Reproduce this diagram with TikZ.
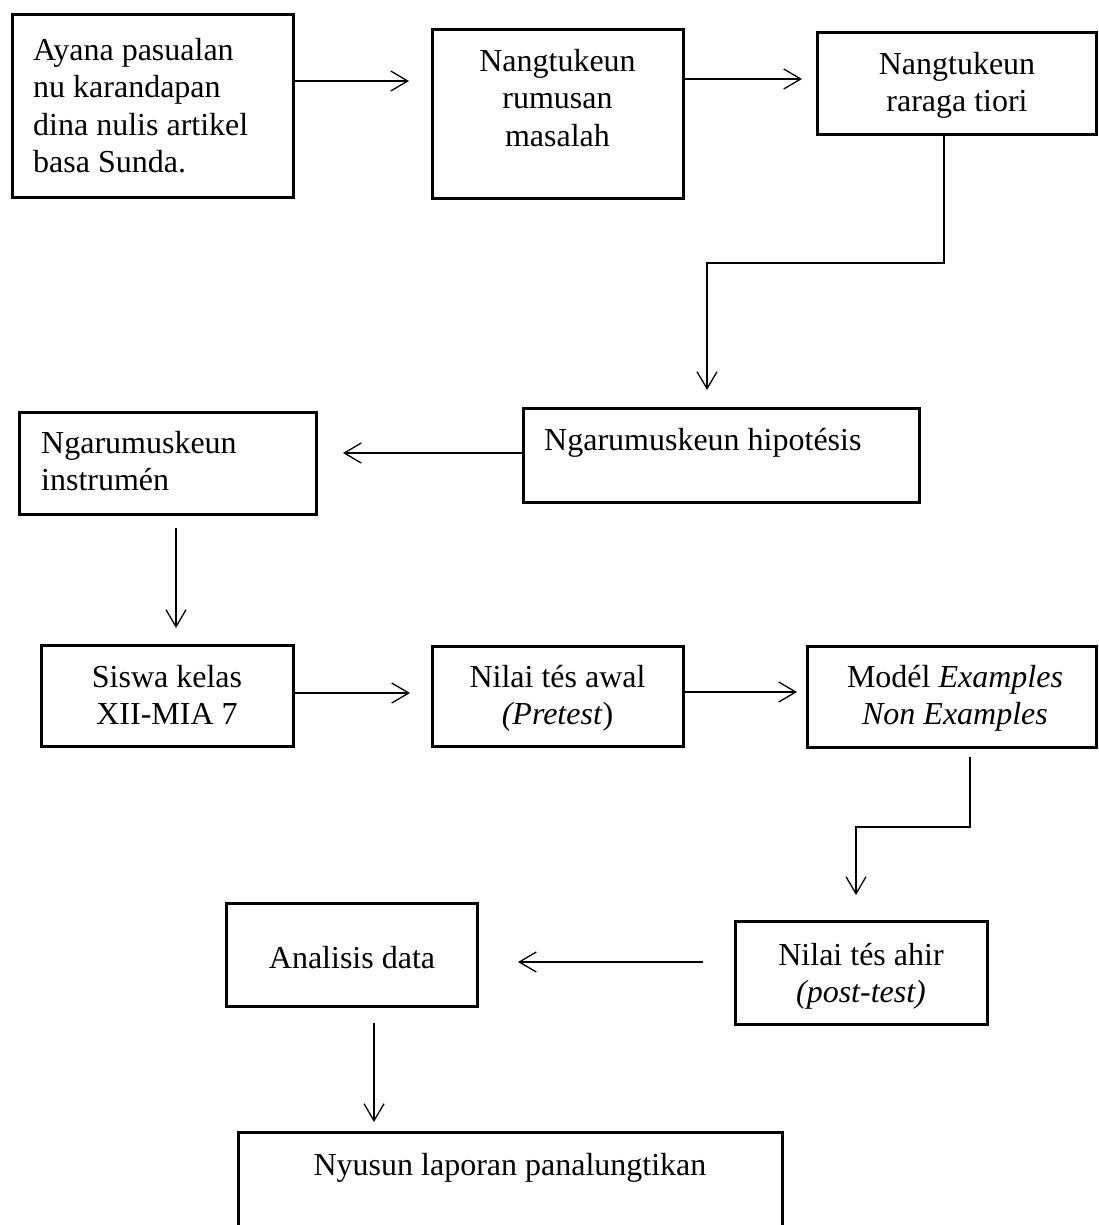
\documentclass[tikz,border=0pt]{standalone}
\usepackage{fontspec}
\setmainfont{Liberation Serif}
\usetikzlibrary{arrows.meta}

\begin{document}
\begin{tikzpicture}[x=1pt,y=-1pt,
	box/.style={draw,line width=3pt,inner sep=0pt},
	txt/.style={inner sep=0pt,font=\fontsize{32}{37.3}\selectfont},
	arr/.style={line width=1.3pt,-{Straight Barb[length=17pt,width=20pt,line width=1.3pt]}}]
	
	% page
	\useasboundingbox (0,0) rectangle (1098,1225);
	
	% boxes
	\node[box,minimum width=281pt,minimum height=182pt] (ayana) at (152.5,106) {};
	\node[box,minimum width=251pt,minimum height=168pt] (rumusan) at (557.5,114) {};
	\node[box,minimum width=279pt,minimum height=102pt] (raraga) at (956.5,84) {};
	\node[box,minimum width=396pt,minimum height=94pt] (hipotesis) at (721,455) {};
	\node[box,minimum width=297pt,minimum height=102pt] (instrumen) at (167.5,463) {};
	\node[box,minimum width=252pt,minimum height=101pt] (siswa) at (167,695.5) {};
	\node[box,minimum width=251pt,minimum height=100pt] (pretest) at (557.5,696) {};
	\node[box,minimum width=289pt,minimum height=101pt] (model) at (951.5,696.5) {};
	\node[box,minimum width=252pt,minimum height=103pt] (posttest) at (861,972.5) {};
	\node[box,minimum width=251pt,minimum height=103pt] (analisis) at (351.5,954.5) {};
	\node[box,minimum width=544pt,minimum height=128pt] (laporan) at (510,1196) {};
	
	% texts
	\node[txt,anchor=north west,align=left] (ayanatxt) at (33,38) {Ayana pasualan\\nu karandapan\\dina nulis artikel\\basa Sunda.};
	\node[txt,anchor=north,align=center] (rumusantxt) at (557.5,49) {Nangtukeun\\rumusan\\masalah};
	\node[txt,anchor=north,align=center] (raragatxt) at (957,52) {Nangtukeun\\raraga tiori};
	\node[txt,anchor=north west] (hipotesistxt) at (544,428) {Ngarumuskeun hipotésis};
	\node[txt,anchor=north west,align=left] (instrumentxt) at (41,431) {Ngarumuskeun\\instrumén};
	\node[txt,anchor=north,align=center] (siswatxt) at (167,665) {Siswa kelas\\XII-MIA 7};
	\node[txt,anchor=north,align=center] (pretesttxt) at (557.5,665) {Nilai tés awal\\\textit{(Pretest})};
	\node[txt,anchor=north,align=center] (modeltxt) at (955,665) {Modél \textit{Examples}\\\textit{Non Examples}};
	\node[txt,anchor=north,align=center] (posttesttxt) at (861,943) {Nilai tés ahir\\\textit{(post-test)}};
	\node[txt,anchor=north] (analisistxt) at (352,946) {Analisis data};
	\node[txt,anchor=north] (laporantxt) at (510,1153) {Nyusun laporan panalungtikan};
	
	% arrow ends
	\coordinate (a1) at (409,81);
	\coordinate (a2) at (802,79);
	\coordinate (t1) at (944,263);
	\coordinate (t2) at (707,390);
	\coordinate (h1) at (343,453);
	\coordinate (i1) at (176,528);
	\coordinate (i2) at (176,628);
	\coordinate (s1) at (410,693);
	\coordinate (p1) at (797,692);
	\coordinate (m1) at (970,757);
	\coordinate (m2) at (856,895);
	\coordinate (q0) at (703,962);
	\coordinate (q1) at (518,962);
	\coordinate (d0) at (374,1023);
	\coordinate (d1) at (374,1122);
	
	% arrows, first row
	\draw[arr] (ayana.east |- a1) -- (a1);
	\draw[arr] (rumusan.east |- a2) -- (a2);
	\draw[arr] (raraga.south -| t1) -- (t1) -| (t2);
	
	% arrows, second row
	\draw[arr] (hipotesis.west |- h1) -- (h1);
	\draw[arr] (i1) -- (i2);
	
	% arrows, third row
	\draw[arr] (siswa.east |- s1) -- (s1);
	\draw[arr] (pretest.east |- p1) -- (p1);
	\draw[arr] (m1) -- ++(0,70) -| (m2);
	
	% arrows, last rows
	\draw[arr] (q0) -- (q1);
	\draw[arr] (d0) -- (d1);
	
\end{tikzpicture}
\end{document}
